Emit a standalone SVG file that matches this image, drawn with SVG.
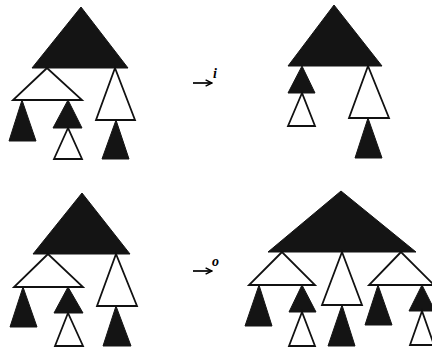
<svg xmlns="http://www.w3.org/2000/svg" width="432" height="348" viewBox="0 0 432 348">
<defs>
<style>
.b{fill:#141414;stroke:#141414;stroke-width:1;stroke-linejoin:miter}
.w{fill:#fff;stroke:#111;stroke-width:1.8;stroke-linejoin:miter}
.arr{fill:none;stroke:#000;stroke-width:1.7}
.lbl{font-family:"Liberation Serif",serif;font-style:italic;font-weight:bold;font-size:14px;fill:#000}
</style>
<marker id="ah" viewBox="0 0 10 10" refX="9" refY="5" markerWidth="8" markerHeight="9" orient="auto" markerUnits="userSpaceOnUse">
<path d="M1,1 L9,5 L1,9" fill="none" stroke="#000" stroke-width="1.8"/>
</marker>
</defs>
<rect width="432" height="348" fill="#fff"/>
<g id="tree-top-left">
<polygon class="b" points="81,7 32,68 128,68"/>
<polygon class="b" points="22,100 9,141 36,141"/>
<polygon class="b" points="68,100 53,128 82,128"/>
<polygon class="b" points="116,120 102,159 129,159"/>
<polygon class="w" points="47,68 13,100 82,100"/>
<polygon class="w" points="115,68 96,120 135,120"/>
<polygon class="w" points="68,128 54,159 82,159"/>
</g>
<g id="tree-top-right">
<polygon class="b" points="334,5 288,66 382,66"/>
<polygon class="b" points="302,66 288,93 315,93"/>
<polygon class="b" points="368,118 355,158 382,158"/>
<polygon class="w" points="302,93 288,126 315,126"/>
<polygon class="w" points="368,66 349,118 389,118"/>
</g>
<g id="tree-bottom-left">
<polygon class="b" points="82,193 33,254 130,254"/>
<polygon class="b" points="23,287 10,327 37,327"/>
<polygon class="b" points="68,287 54,313 83,313"/>
<polygon class="b" points="116,306 103,346 131,346"/>
<polygon class="w" points="48,254 14,287 83,287"/>
<polygon class="w" points="116,254 97,306 137,306"/>
<polygon class="w" points="68,313 55,346 83,346"/>
</g>
<g id="tree-bottom-right">
<polygon class="b" points="341,191 268,252 416,252"/>
<polygon class="b" points="259,285 245,326 272,326"/>
<polygon class="b" points="302,285 289,312 316,312"/>
<polygon class="b" points="342,305 328,346 355,346"/>
<polygon class="b" points="378,285 365,325 392,325"/>
<polygon class="b" points="422,285 409,311 435,311"/>
<polygon class="w" points="282,252 249,285 315,285"/>
<polygon class="w" points="342,252 322,305 362,305"/>
<polygon class="w" points="401,252 369,285 434,285"/>
<polygon class="w" points="302,312 289,346 315,346"/>
<polygon class="w" points="422,311 410,345 434,345"/>
</g>
<g id="connectors">
<line class="arr" x1="193" y1="83" x2="212" y2="83" marker-end="url(#ah)"/>
<line class="arr" x1="193" y1="271" x2="212" y2="271" marker-end="url(#ah)"/>
</g>
<g id="labels">
<text class="lbl" x="213" y="78">i</text>
<text class="lbl" x="212" y="266">o</text>
</g>
</svg>
